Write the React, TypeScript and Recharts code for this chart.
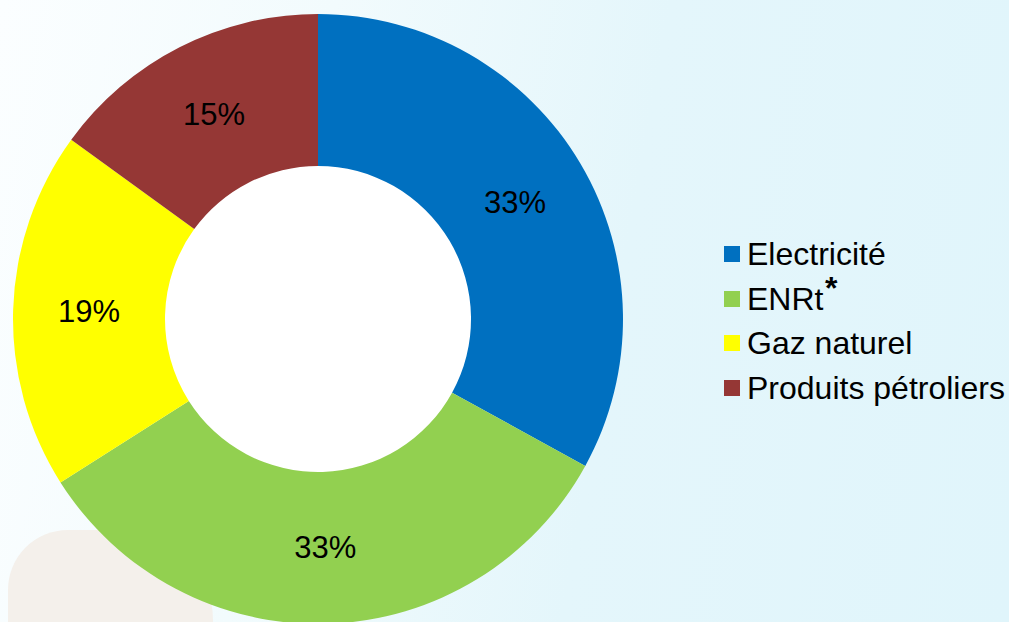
import React from 'react';
import { PieChart, Pie, Cell, Legend } from 'recharts';

const categories = ['Electricité', 'ENRt', 'Gaz naturel', 'Produits pétroliers'];
const shares = [33, 33, 19, 15];
const colors = ['#0070C0', '#92D050', '#FFFF00', '#953735'];

const data = categories.map((name, i) => ({ name, value: shares[i] }));

const RADIAN = Math.PI / 180;
const FONT = '"Liberation Sans", Arial, sans-serif';

const renderLabel = ({ cx, cy, midAngle, innerRadius, outerRadius, value }: any) => {
  const r = (innerRadius + outerRadius) / 2;
  const x = cx + r * Math.cos(-midAngle * RADIAN);
  const y = cy + r * Math.sin(-midAngle * RADIAN);
  return (
    <text
      x={x}
      y={y}
      fill="#000"
      textAnchor="middle"
      dominantBaseline="central"
      style={{ fontFamily: FONT, fontSize: 31 }}
    >
      {`${value}%`}
    </text>
  );
};

const LegendContent = () => (
  <div style={{ fontFamily: FONT, fontSize: 32, color: '#000' }}>
    {categories.map((name, i) => (
      <div key={name} style={{ display: 'flex', alignItems: 'center', height: 44.5 }}>
        <span style={{ display: 'inline-block', width: 16, height: 16, background: colors[i], marginRight: 7 }} />
        <span style={{ position: 'relative', lineHeight: '36px' }}>
          {name}
          {name === 'ENRt' && (
            <span
              style={{
                position: 'absolute',
                left: 78,
                top: -4,
                fontSize: 32,
                lineHeight: '22px',
                height: 22,
                fontWeight: 'bold',
              }}
            >
              *
            </span>
          )}
        </span>
      </div>
    ))}
  </div>
);

export default function App() {
  return (
    <div
      style={{
        position: 'fixed',
        left: 0,
        top: 0,
        width: 1009,
        height: 622,
        overflow: 'hidden',
        background: 'linear-gradient(100deg, #fbfeff 0%, #f2fbfd 30%, #e4f6fb 60%, #e0f5fb 100%)',
      }}
    >
      <div
        style={{
          position: 'absolute',
          left: 8,
          top: 530,
          width: 205,
          height: 140,
          background: '#f4f0eb',
          borderRadius: '60px 90px 40px 40px',
        }}
      />
      <div
        style={{
          position: 'absolute',
          left: 317 - 160,
          top: 319 - 160,
          width: 320,
          height: 320,
          borderRadius: '50%',
          background: '#ffffff',
        }}
      />
      <div style={{ position: 'absolute', left: 0, top: 0 }}>
        <PieChart width={1009} height={622} margin={{ top: 0, right: 0, bottom: 0, left: 0 }}>
          <Pie
            data={data}
            dataKey="value"
            nameKey="name"
            cx={318}
            cy={319}
            innerRadius={153}
            outerRadius={305}
            startAngle={90}
            endAngle={-270}
            stroke="none"
            label={renderLabel}
            labelLine={false}
            isAnimationActive={false}
          >
            {data.map((entry, i) => (
              <Cell key={entry.name} fill={colors[i]} />
            ))}
          </Pie>
          <Legend
            content={<LegendContent />}
            wrapperStyle={{ position: 'absolute', left: 724, top: 232, width: 285 }}
          />
        </PieChart>
      </div>
    </div>
  );
}
